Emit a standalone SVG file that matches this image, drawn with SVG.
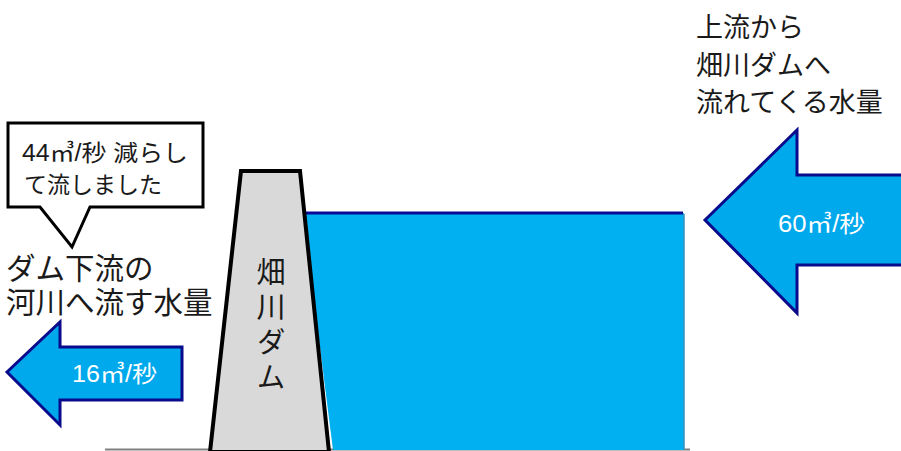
<svg xmlns="http://www.w3.org/2000/svg" width="901" height="451" viewBox="0 0 901 451">
<style>
.t{font-family:"Liberation Sans","Noto Sans CJK JP",sans-serif;fill:#1a1a1a}
.w{font-family:"Liberation Sans","Noto Sans CJK JP",sans-serif;fill:#ffffff}
.arrow{fill:#00a8ec;stroke:#0a0a8c;stroke-width:3;stroke-linejoin:miter}
</style>
<rect width="901" height="451" fill="#ffffff"/>
<g id="ground"><line x1="105" y1="449.5" x2="690" y2="449.5" stroke="#808080" stroke-width="2"/></g>
<g id="water">
<polygon points="303,213 684,213 684,450 333,450" fill="#00b0f0"/>
<line x1="684" y1="214" x2="684" y2="450" stroke="#3a8fbf" stroke-width="1.5"/>
<line x1="301" y1="213" x2="683" y2="213" stroke="#0a0a96" stroke-width="3"/>
</g>
<g id="dam">
<polygon points="241,171 300,171 329,452 210,452" fill="#d9d9d9" stroke="#000" stroke-width="4" stroke-linejoin="miter"/>
<text class="t" font-size="29" writing-mode="vertical-rl" letter-spacing="6" x="268" y="257">畑川ダム</text>
</g>
<g id="inflow-arrow">
<polygon class="arrow" points="705,220 797,130 797,175 903,175 903,265 797,265 797,313"/>
<text class="w" font-size="23" x="778" y="232" textLength="87" lengthAdjust="spacingAndGlyphs">60㎥/秒</text>
</g>
<g id="outflow-arrow">
<polygon class="arrow" points="7,372 60,322 60,347 182,347 182,400 60,400 60,425"/>
<text class="w" font-size="23" x="72" y="382" textLength="85" lengthAdjust="spacingAndGlyphs">16㎥/秒</text>
</g>
<g id="callout">
<path d="M8,123 H203 V207 H90 L72,247 L40,207 H8 Z" fill="#ffffff" stroke="#000" stroke-width="3" stroke-linejoin="miter"/>
<text class="t" font-size="23"><tspan x="22" y="161" textLength="166" lengthAdjust="spacingAndGlyphs">44㎥/秒 減らし</tspan><tspan x="24" y="193">て流しました</tspan></text>
</g>
<g id="downstream-label">
<text class="t" font-size="29.5"><tspan x="6" y="279">ダム下流の</tspan><tspan x="6" y="313">河川へ流す水量</tspan></text>
</g>
<g id="upstream-label">
<text class="t" font-size="27"><tspan x="696" y="37">上流から</tspan><tspan x="696" y="75">畑川ダムへ</tspan><tspan x="696" y="112">流れてくる水量</tspan></text>
</g>
</svg>
